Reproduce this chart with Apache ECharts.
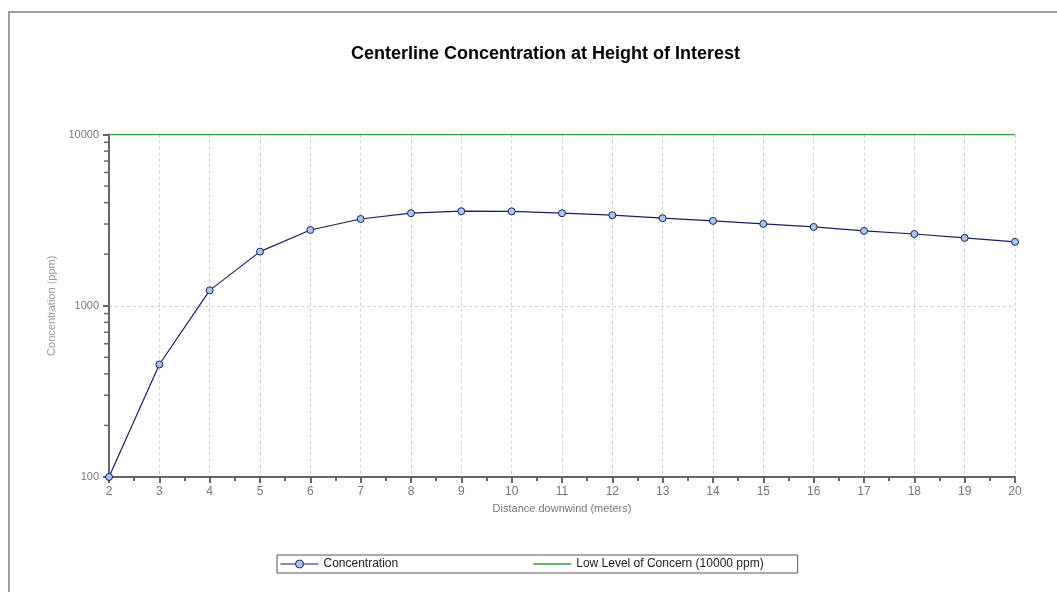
<!DOCTYPE html>
<html>
<head>
<meta charset="utf-8">
<script src="https://cdn.jsdelivr.net/npm/echarts@6/dist/echarts.min.js"></script>
<style>
  html, body { margin: 0; padding: 0; background: #fff; }
  #frame { position: absolute; left: 8px; top: 11px; width: 1049px; height: 581px;
           border-top: 2px solid #a0a0a0; border-left: 2px solid #a0a0a0; }
  #chart { position: absolute; left: 0; top: 0; width: 1057px; height: 592px; }
</style>
</head>
<body>
<div id="frame"></div>
<div id="chart"></div>
<script>
// 거리별 농도 (로그 축)
var distance = [2, 3, 4, 5, 6, 7, 8, 9, 10, 11, 12, 13, 14, 15, 16, 17, 18, 19, 20]
var concentration = [100, 454, 1230, 2070, 2770, 3210, 3470, 3565, 3560, 3470, 3380, 3245, 3130, 3005, 2885, 2735, 2625, 2490, 2360]
var locX = [2, 20]
var locValue = [10000, 10000]
// y 축 보조 눈금 (2000..9000, 200..900)
var minorTicksY = [200, 300, 400, 500, 600, 700, 800, 900, 2000, 3000, 4000, 5000, 6000, 7000, 8000, 9000]

var chart = echarts.init(document.getElementById('chart'))

var labelFont = 'Liberation Sans, Arial, sans-serif'

option = {
  animation: false,
  title: {
    text: 'Centerline Concentration at Height of Interest',
    left: 346,
    top: 40,
    textStyle: {
      fontFamily: labelFont,
      fontSize: 18,
      fontWeight: 'bold',
      color: '#000'
    }
  },
  legend: {
    left: 277,
    top: 555,
    padding: [3, 34, 3, 3],
    itemGap: 135,
    itemWidth: 38,
    itemHeight: 10,
    borderColor: '#555',
    borderWidth: 1,
    lineStyle: { width: 1 },
    itemStyle: { borderWidth: 1 },
    data: [
      { name: 'Concentration' },
      { name: 'Low Level of Concern (10000 ppm)', icon: 'path://M0,0 L40,0 L40,1.6 L0,1.6 Z' }
    ],
    textStyle: {
      fontFamily: labelFont,
      fontSize: 12,
      color: '#222'
    }
  },
  grid: {
    left: 109,
    right: 42,
    top: 134.5,
    bottom: 115
  },
  xAxis: {
    type: 'value',
    min: 2,
    max: 20,
    interval: 1,
    name: 'Distance downwind (meters)',
    nameLocation: 'middle',
    nameGap: 26,
    nameTextStyle: { fontFamily: labelFont, fontSize: 11, color: '#777' },
    axisLine: { lineStyle: { color: '#666', width: 2 } },
    axisTick: { length: 6, lineStyle: { color: '#666', width: 2 } },
    minorTick: { show: true, splitNumber: 2, length: 4, lineStyle: { color: '#666', width: 2 } },
    axisLabel: { fontFamily: labelFont, fontSize: 12, color: '#777', margin: 9 },
    splitLine: { show: true, lineStyle: { color: '#cfcfcf', type: [3, 3] } }
  },
  yAxis: {
    type: 'log',
    logBase: 10,
    min: 100,
    max: 10000,
    name: 'Concentration (ppm)',
    nameLocation: 'middle',
    nameGap: 49,
    nameTextStyle: { fontFamily: labelFont, fontSize: 11, color: '#999' },
    axisLine: { show: true, lineStyle: { color: '#666', width: 2 } },
    axisTick: { show: true, length: 6, lineStyle: { color: '#666', width: 2 } },
    axisLabel: {
      fontFamily: labelFont, fontSize: 11, color: '#777', margin: 10,
      formatter: function (v) { return String(Math.round(v)) }
    },
    splitLine: { show: true, lineStyle: { color: '#cfcfcf', type: [3, 3] } }
  },
  series: [
    {
      name: 'Low Level of Concern (10000 ppm)',
      type: 'line',
      data: locX.map(function (x, i) { return [x, locValue[i]] }),
      symbol: 'none',
      lineStyle: { color: '#3c9a3c', width: 1.5 },
      itemStyle: { color: '#3c9a3c' },
      z: 3
    },
    {
      name: 'Concentration',
      type: 'line',
      data: distance.map(function (x, i) { return [x, concentration[i]] }),
      symbol: 'circle',
      symbolSize: 7,
      lineStyle: { color: '#1c1f5c', width: 1.2 },
      itemStyle: { color: '#a9c6ee', borderColor: '#1c1f5c', borderWidth: 1 },
      z: 4
    },
    {
      // y 축 보조 눈금
      type: 'custom',
      silent: true,
      clip: false,
      data: minorTicksY.map(function (v) { return [2, v] }),
      renderItem: function (params, api) {
        var p = api.coord([api.value(0), api.value(1)])
        return {
          type: 'line',
          shape: { x1: p[0] - 5, y1: p[1], x2: p[0], y2: p[1] },
          style: { stroke: '#666', lineWidth: 1.5 }
        }
      },
      z: 5
    }
  ]
}

chart.setOption(option)
</script>
</body>
</html>
